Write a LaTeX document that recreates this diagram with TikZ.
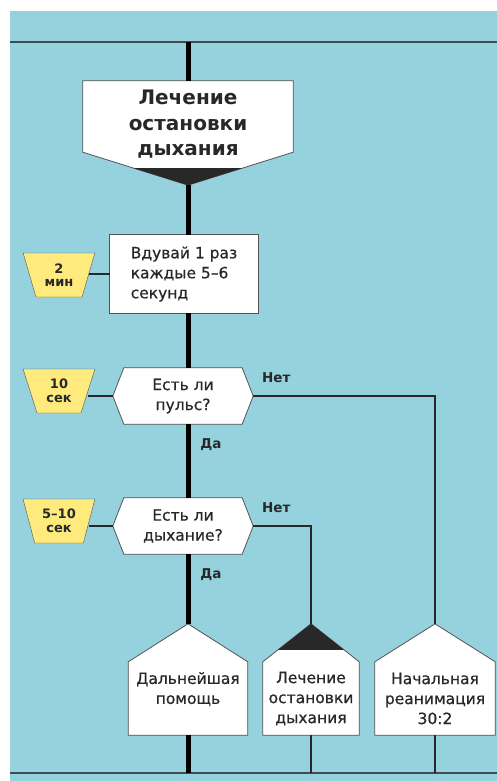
\documentclass[tikz,border=0pt]{standalone}
\usepackage{fontspec}
\setmainfont{DejaVu Sans}
\newfontfamily\bodyfont[FakeBold=0.6]{DejaVu Sans}
\usetikzlibrary{calc,backgrounds,shapes.geometric}

\definecolor{panel}{RGB}{150,209,222}
\definecolor{tabyellow}{RGB}{255,234,125}
\definecolor{ink}{RGB}{40,40,40}
\definecolor{railgray}{RGB}{60,78,84}

\begin{document}
\begin{tikzpicture}[x=1pt, y=-1pt,
    actbox/.style={inner sep=0pt, align=center, text=ink, font=\bodyfont\fontsize{15.5}{20}\selectfont},
    headbox/.style={actbox, font=\bfseries\fontsize{20}{25.5}\selectfont},
    timer/.style={trapezium, trapezium left angle=109, trapezium right angle=109, trapezium stretches=true,
        draw=ink!80, fill=tabyellow, minimum width=72pt, minimum height=44pt, inner sep=0pt,
        align=center, text=ink, font=\bfseries\fontsize{13}{13.5}\selectfont},
    answer/.style={text=ink, font=\bfseries\fontsize{13.5}{14}\selectfont},
    shapeline/.style={draw=ink!80, line width=0.8pt, fill=white},
    trunk/.style={line width=5pt, black},
    wire/.style={line width=1.5pt, ink},
    rail/.style={line width=2.5pt, railgray}
]
\useasboundingbox (0,0) rectangle (497,781);

% blocks
\node[headbox, minimum width=210pt, minimum height=87pt] (head) at (188,124.5) {Лечение\\остановки\\дыхания};
\node[actbox, minimum width=148pt, minimum height=78pt, align=left] (blow) at (184,274) {Вдувай 1 раз\\каждые 5–6\\секунд};
\node[actbox, minimum width=140pt, minimum height=56pt] (pulse) at (183,396) {Есть ли\\пульс?};
\node[actbox, minimum width=140pt, minimum height=56pt] (breath) at (183,526) {Есть ли\\дыхание?};
\node[actbox, minimum width=119pt, minimum height=73pt, text depth=21pt] (care) at (188,698.5) {Дальнейшая\\помощь};
\node[actbox, minimum width=96pt, minimum height=73pt] (resp) at (311,698.5) {Лечение\\остановки\\дыхания};
\node[actbox, minimum width=120pt, minimum height=73pt] (cpr) at (435,698.5) {Начальная\\реанимация\\30:2};

% timers
\node[timer] (tblow) at (59,275) {2\\мин};
\node[timer] (tpulse) at (59,391) {10\\сек};
\node[timer] (tbreath) at (59,521) {5–10\\сек};

\coordinate (topL) at (10,42);
\coordinate (topR) at (497,42);
\coordinate (botL) at (10,773);
\coordinate (botR) at (497,773);
\coordinate (headtip) at ($(head.south)+(0,17)$);
\foreach \n in {care,resp,cpr}
    \coordinate (\n-top) at ($(\n.north)+(0,-38)$);

% outlines
\begin{scope}[on background layer]
\fill[panel] (10,11) rectangle (497,781);
\draw[shapeline] (head.north west) -- (head.north east) -- ($(head.south east)+(0,-16)$)
    -- (headtip) -- ($(head.south west)+(0,-16)$) -- cycle;
\fill[ink] ($(head.south west)+(51,0)$) -- ($(head.south east)+(-51,0)$) -- (headtip) -- cycle;
\draw[shapeline] (blow.north west) rectangle (blow.south east);
\foreach \n in {pulse,breath}
    \draw[shapeline] (\n.west) -- ($(\n.north west)+(11,0)$) -- ($(\n.north east)+(-11,0)$)
        -- (\n.east) -- ($(\n.south east)+(-11,0)$) -- ($(\n.south west)+(11,0)$) -- cycle;
\foreach \n in {care,resp,cpr}
    \draw[shapeline] (\n.south west) -- (\n.north west) -- (\n-top) -- (\n.north east) -- (\n.south east) -- cycle;
\fill[ink] (resp-top) -- ($(resp.north)+(-33,-12)$) -- ($(resp.north)+(33,-12)$) -- cycle;
\end{scope}

% rails
\draw[rail] (topL) -- (topR);
\draw[rail] (botL) -- (botR);

% main line
\draw[trunk] (head.north |- topL) -- (head.north);
\draw[trunk] (headtip) -- (headtip |- blow.north);
\draw[trunk] (headtip |- blow.south) -- (headtip |- pulse.north);
\draw[trunk] (headtip |- pulse.south) -- (headtip |- breath.north);
\draw[trunk] (headtip |- breath.south) -- (care-top);
\draw[trunk] (care.south) -- (care.south |- botL);

% side branches
\draw[wire] (pulse.east) -| (cpr-top);
\draw[wire] (breath.east) -| (resp-top);
\draw[wire] (resp.south) -- (resp.south |- botL);
\draw[wire] (cpr.south) -- (cpr.south |- botL);
\draw[wire] (blow.west) -- (blow.west -| tblow.east);
\draw[wire] (pulse.west) -- (pulse.west -| tpulse.east);
\draw[wire] (breath.west) -- (breath.west -| tbreath.east);

% answers
\node[answer] (nopulse) at ($(pulse.east)+(23,-18)$) {Нет};
\node[answer] (yespulse) at ($(pulse.south -| headtip)+(23,20)$) {Да};
\node[answer] (nobreath) at ($(breath.east)+(23,-18)$) {Нет};
\node[answer] (yesbreath) at ($(breath.south -| headtip)+(23,20)$) {Да};
\end{tikzpicture}
\end{document}
